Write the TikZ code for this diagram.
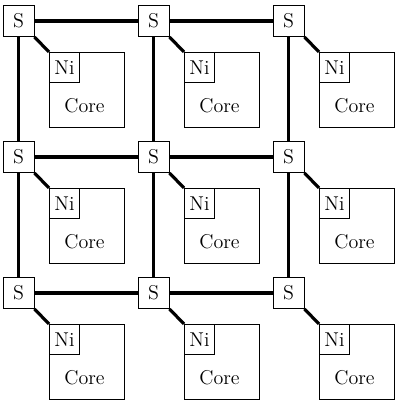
\documentclass[tikz,border=0pt]{standalone}
\usetikzlibrary{positioning}

\tikzset{
  switch/.style={draw, semithick, fill=white, minimum size=18.6pt, inner sep=0pt},
  corebox/.style={draw, semithick, minimum size=45pt, inner sep=0pt},
  nibox/.style={draw, semithick, minimum size=18pt, inner sep=0pt},
  link/.style={line width=1.9pt}
}

\begin{document}
\begin{tikzpicture}[x=0.6pt, y=-0.6pt, font=\fontsize{12}{14}\selectfont]
  \useasboundingbox (0,0) rectangle (403,402);
  % switches, cores and network interfaces
  \foreach \i in {0,1,2} {
    \foreach \j in {0,1,2} {
      \node[switch] (s-\i-\j) at (18.5+135*\i, 21+136*\j) {S};
      \node[corebox, below right=18.6pt and 18.3pt of s-\i-\j.center] (core-\i-\j) {};
      \node[nibox, below right=0pt and 0pt of core-\i-\j.north west] (ni-\i-\j) {Ni};
      \node (lbl-\i-\j) at ([xshift=-1.5pt, yshift=-9.5pt]core-\i-\j.center) {Core};
    }
  }
  % mesh links
  \foreach \i/\k in {0/1,1/2} {
    \foreach \j in {0,1,2} {
      \draw[link] (s-\i-\j.east) -- (s-\k-\j.west);
      \draw[link] (s-\j-\i.south) -- (s-\j-\k.north);
    }
  }
  % switch to interface
  \foreach \i in {0,1,2} {
    \foreach \j in {0,1,2} {
      \draw[link] (s-\i-\j.south east) -- (ni-\i-\j.north west);
    }
  }
\end{tikzpicture}
\end{document}
